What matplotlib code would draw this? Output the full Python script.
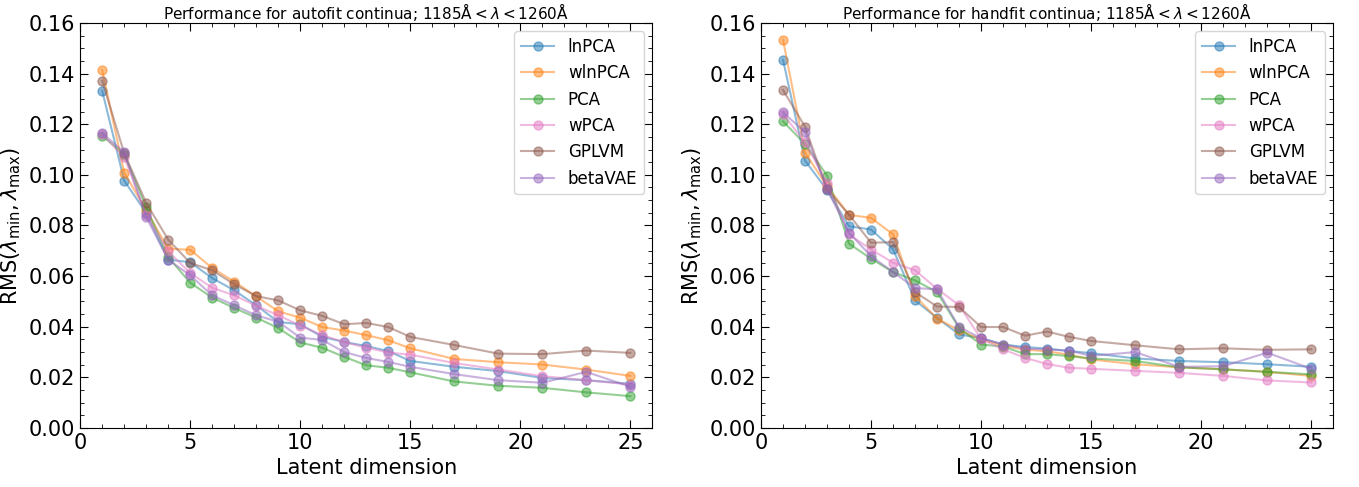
import matplotlib
matplotlib.use("Agg")
import matplotlib.pyplot as plt

latent_dims = [1, 2, 3, 4, 5, 6, 7, 8, 9, 10, 11, 12, 13, 14, 15, 17, 19, 21, 23, 25]
methods = ["lnPCA", "wlnPCA", "PCA", "wPCA", "GPLVM", "betaVAE"]
colors = ["tab:blue", "tab:orange", "tab:green", "tab:pink", "tab:brown", "tab:purple"]

# autofit continua
auto_lnpca = [0.1332, 0.0977, 0.0850, 0.0665, 0.0655, 0.0592, 0.0544, 0.0485, 0.0419, 0.0410,
              0.0360, 0.0340, 0.0324, 0.0304, 0.0265, 0.0242, 0.0225, 0.0198, 0.0189, 0.0175]
auto_wlnpca = [0.1414, 0.1009, 0.0860, 0.0708, 0.0704, 0.0632, 0.0578, 0.0520, 0.0461, 0.0436,
               0.0399, 0.0385, 0.0367, 0.0347, 0.0315, 0.0273, 0.0260, 0.0251, 0.0231, 0.0206]
auto_pca = [0.1155, 0.1080, 0.0872, 0.0675, 0.0574, 0.0515, 0.0474, 0.0436, 0.0395, 0.0338,
            0.0317, 0.0281, 0.0248, 0.0238, 0.0220, 0.0184, 0.0167, 0.0159, 0.0141, 0.0126]
auto_wpca = [0.1160, 0.1070, 0.0840, 0.0698, 0.0612, 0.0554, 0.0524, 0.0483, 0.0445, 0.0405,
             0.0367, 0.0339, 0.0318, 0.0298, 0.0290, 0.0257, 0.0231, 0.0205, 0.0189, 0.0172]
auto_gplvm = [0.1372, 0.1085, 0.0889, 0.0744, 0.0652, 0.0623, 0.0568, 0.0521, 0.0504, 0.0465,
              0.0443, 0.0410, 0.0415, 0.0399, 0.0360, 0.0328, 0.0294, 0.0292, 0.0306, 0.0297]
auto_betavae = [0.1164, 0.1090, 0.0833, 0.0665, 0.0603, 0.0524, 0.0485, 0.0445, 0.0420, 0.0357,
                0.0348, 0.0300, 0.0277, 0.0261, 0.0242, 0.0213, 0.0189, 0.0179, 0.0222, 0.0163]

# handfit continua
hand_lnpca = [0.1454, 0.1056, 0.0940, 0.0797, 0.0784, 0.0706, 0.0504, 0.0435, 0.0370, 0.0355,
              0.0330, 0.0320, 0.0314, 0.0304, 0.0296, 0.0275, 0.0265, 0.0260, 0.0252, 0.0242]
hand_wlnpca = [0.1533, 0.1088, 0.0955, 0.0842, 0.0830, 0.0765, 0.0521, 0.0432, 0.0386, 0.0350,
               0.0325, 0.0310, 0.0303, 0.0290, 0.0271, 0.0252, 0.0240, 0.0232, 0.0222, 0.0206]
hand_pca = [0.1211, 0.1122, 0.0997, 0.0728, 0.0669, 0.0616, 0.0583, 0.0537, 0.0395, 0.0330,
            0.0322, 0.0292, 0.0292, 0.0284, 0.0275, 0.0265, 0.0240, 0.0232, 0.0222, 0.0212]
hand_wpca = [0.1240, 0.1128, 0.0968, 0.0765, 0.0705, 0.0653, 0.0623, 0.0550, 0.0485, 0.0352,
             0.0311, 0.0277, 0.0253, 0.0238, 0.0234, 0.0226, 0.0218, 0.0206, 0.0188, 0.0180]
hand_gplvm = [0.1335, 0.1190, 0.0943, 0.0842, 0.0732, 0.0734, 0.0537, 0.0480, 0.0478, 0.0399,
              0.0399, 0.0365, 0.0381, 0.0360, 0.0344, 0.0327, 0.0311, 0.0315, 0.0309, 0.0311]
hand_betavae = [0.1247, 0.1168, 0.0943, 0.0771, 0.0679, 0.0616, 0.0553, 0.0548, 0.0399, 0.0355,
                0.0330, 0.0314, 0.0310, 0.0306, 0.0285, 0.0300, 0.0242, 0.0244, 0.0298, 0.0234]

panels = [
    ("autofit", [auto_lnpca, auto_wlnpca, auto_pca, auto_wpca, auto_gplvm, auto_betavae]),
    ("handfit", [hand_lnpca, hand_wlnpca, hand_pca, hand_wpca, hand_gplvm, hand_betavae]),
]

fig, axes = plt.subplots(1, 2, figsize=(13.59, 4.87), dpi=100)
fig.subplots_adjust(left=0.059, right=0.981, top=0.953, bottom=0.121, wspace=0.19)

for ax, (kind, series) in zip(axes, panels):
    for name, vals, c in zip(methods, series, colors):
        ax.plot(latent_dims, vals, "o-", color=c, alpha=0.5, label=name,
                markersize=6.5, linewidth=1.5)
    ax.set_xlim(0, 26)
    ax.set_ylim(0, 0.16)
    ax.set_title(
        f"Performance for {kind} continua; 1185Å$<\\lambda<$1260Å", fontsize=11, pad=3
    )
    ax.set_xlabel("Latent dimension", fontsize=15)
    ax.set_ylabel(r"RMS($\lambda_{\rm min}, \lambda_{\rm max}$)", fontsize=15)
    ax.minorticks_on()
    ax.tick_params(which="both", direction="in", top=True, right=True, labelsize=15)
    ax.tick_params(which="major", length=6)
    ax.tick_params(which="minor", length=3)
    ax.legend(loc="upper right", fontsize=12)

plt.savefig("out.png")
